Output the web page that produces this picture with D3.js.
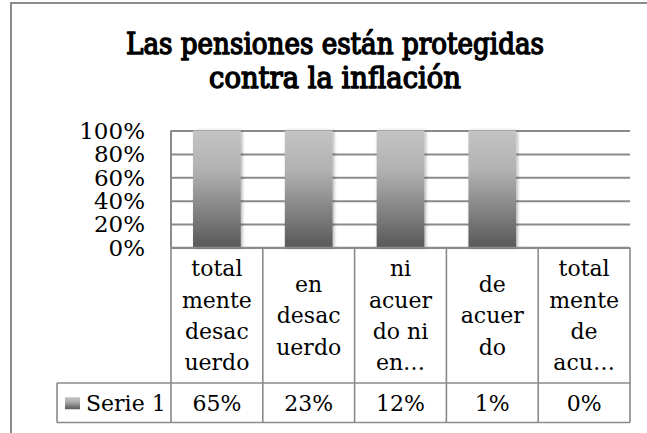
<!DOCTYPE html>
<html>
<head>
<meta charset="utf-8">
<script src="https://cdn.jsdelivr.net/npm/d3@7"></script>
<style>
  body { margin: 0; background: #fff; }
  svg text { font-family: "DejaVu Serif", serif; fill: #000; }
</style>
</head>
<body>
<script>
// data
var categories = ["totalmente desacuerdo", "en desacuerdo", "ni acuerdo ni en desacuerdo", "de acuerdo", "totalmente de acuerdo"];
var categoryLines = [
  ["total", "mente", "desac", "uerdo"],
  ["en", "desac", "uerdo"],
  ["ni", "acuer", "do ni", "en\u2026"],
  ["de", "acuer", "do"],
  ["total", "mente", "de", "acu\u2026"]
];
var seriesName = "Serie 1";
var serie1 = [65, 23, 12, 1, 0];
var yTicks = [0, 0.2, 0.4, 0.6, 0.8, 1];
var titleLines = ["Las pensiones están protegidas", "contra la inflación"];

var W = 647, H = 433;
var plot = {left: 171, right: 630, top: 130.5, bottom: 247.5};
var rowCat = 383, rowVal = 422.5, headLeft = 57;
var lineColor = "#8a8a8a";
var fs = 22;

var svg = d3.select("body").append("svg")
  .attr("width", W)
  .attr("height", H);

var defs = svg.append("defs");
var grad = defs.append("linearGradient")
  .attr("id", "barGrad")
  .attr("x1", 0).attr("y1", 0).attr("x2", 0).attr("y2", 1);
grad.append("stop").attr("offset", "0%").attr("stop-color", "#c4c4c4");
grad.append("stop").attr("offset", "35%").attr("stop-color", "#b0b0b0");
grad.append("stop").attr("offset", "100%").attr("stop-color", "#585858");

var shadow = defs.append("filter").attr("id", "shadow")
  .attr("x", "-20%").attr("y", "-5%").attr("width", "140%").attr("height", "110%");
shadow.append("feDropShadow")
  .attr("dx", 1.5).attr("dy", 0.5)
  .attr("stdDeviation", 1.6)
  .attr("flood-color", "#000")
  .attr("flood-opacity", 0.3);

// chart area border (runs off the page on the right and bottom)
svg.append("path")
  .attr("d", "M11," + (H + 5) + "V3H" + (W + 5))
  .attr("fill", "none")
  .attr("stroke", "#8c8c8c")
  .attr("stroke-width", 2);

// title: serif, emboldened with a stroke, narrowed to its width in the picture
var titleWidths = [418, 252];
svg.append("g").selectAll("text")
  .data(titleLines)
  .enter().append("text")
  .attr("text-anchor", "middle")
  .style("font-size", "29px")
  .attr("stroke", "#000")
  .attr("stroke-width", 1.5)
  .attr("stroke-linejoin", "round")
  .text(function(d) { return d; })
  .each(function(d, i) {
    var len = this.getComputedTextLength();
    var k = Math.min(1, titleWidths[i] / len);
    d3.select(this).attr("transform",
      "translate(335," + (54 + i * 34) + ") scale(" + k + ",1)");
  });

// scales
var x = d3.scaleBand()
  .domain(categories)
  .range([plot.left, plot.right])
  .padding(0);

var y = d3.scaleLinear()
  .domain([0, 1])
  .range([plot.bottom, plot.top]);

// 100% stacked: single series normalised per category
var table = categories.map(function(c, i) { return {cat: c, s1: serie1[i]}; });
var stacked = d3.stack().keys(["s1"]).offset(d3.stackOffsetExpand)(table);

// gridlines
svg.append("g")
  .attr("class", "grid")
  .attr("transform", "translate(" + plot.left + ",0)")
  .call(d3.axisLeft(y).tickValues(yTicks).tickSize(-(plot.right - plot.left)).tickFormat(""))
  .call(function(g) { g.select(".domain").remove(); })
  .selectAll("line")
  .attr("stroke", lineColor)
  .attr("stroke-width", 2);

// left plot edge
svg.append("line")
  .attr("x1", plot.left).attr("x2", plot.left)
  .attr("y1", y(1)).attr("y2", y(0))
  .attr("stroke", lineColor)
  .attr("stroke-width", 2);

// y axis labels
svg.append("g")
  .attr("transform", "translate(" + plot.left + ",0)")
  .call(d3.axisLeft(y).tickValues(yTicks).tickSize(0).tickPadding(26).tickFormat(d3.format(".0%")))
  .call(function(g) { g.select(".domain").remove(); })
  .selectAll("text")
  .style("font-size", "23px")
  .attr("fill", "#000")
  .attr("dy", "0.34em");

// bars
var barW = x.bandwidth() * 0.52;
svg.append("g")
  .selectAll("rect")
  .data(stacked[0])
  .enter().append("rect")
  .attr("x", function(d) { return x(d.data.cat) + (x.bandwidth() - barW) / 2; })
  .attr("y", function(d) { return y(d[1]); })
  .attr("width", barW)
  .attr("height", function(d) { return y(d[0]) - y(d[1]); })
  .attr("fill", "url(#barGrad)")
  .attr("filter", "url(#shadow)");

// data table
var tbl = svg.append("g").attr("class", "datatable");

tbl.append("line")
  .attr("x1", plot.left).attr("x2", plot.right)
  .attr("y1", plot.bottom).attr("y2", plot.bottom);
[rowCat, rowVal].forEach(function(yy) {
  tbl.append("line")
    .attr("x1", headLeft).attr("x2", plot.right)
    .attr("y1", yy).attr("y2", yy);
});
var bounds = categories.map(function(c) { return x(c); }).concat([plot.right]);
tbl.selectAll("line.v")
  .data(bounds)
  .enter().append("line")
  .attr("class", "v")
  .attr("x1", function(d) { return d; }).attr("x2", function(d) { return d; })
  .attr("y1", plot.bottom).attr("y2", rowVal);
tbl.append("line")
  .attr("x1", headLeft).attr("x2", headLeft)
  .attr("y1", rowCat).attr("y2", rowVal);
tbl.selectAll("line")
  .attr("stroke", lineColor)
  .attr("stroke-width", 1.6);

// category labels (wrapped)
var catMid = (plot.bottom + rowCat) / 2, lh = 31.3;
var cells = tbl.selectAll("text.cat")
  .data(categories)
  .enter().append("text")
  .attr("class", "cat")
  .attr("text-anchor", "middle")
  .style("font-size", fs + "px");
cells.each(function(c, i) {
  var lines = categoryLines[i];
  d3.select(this).selectAll("tspan")
    .data(lines)
    .enter().append("tspan")
    .attr("x", x(c) + x.bandwidth() / 2)
    .attr("y", function(d, j) { return catMid + (j - (lines.length - 1) / 2) * lh + 8; })
    .text(function(d) { return d; });
});

// value row
var valMid = (rowCat + rowVal) / 2;
tbl.selectAll("text.val")
  .data(table)
  .enter().append("text")
  .attr("class", "val")
  .attr("x", function(d) { return x(d.cat) + x.bandwidth() / 2; })
  .attr("y", valMid + 8)
  .attr("text-anchor", "middle")
  .style("font-size", fs + "px")
  .text(function(d) { return d3.format(".0%")(d.s1 / 100); });

// legend key + series name
tbl.append("rect")
  .attr("x", 65).attr("y", valMid - 5.5)
  .attr("width", 15).attr("height", 12)
  .attr("fill", "url(#barGrad)");
tbl.append("text")
  .attr("x", 86)
  .attr("y", valMid + 8)
  .style("font-size", fs + "px")
  .text(seriesName);
</script>
</body>
</html>
